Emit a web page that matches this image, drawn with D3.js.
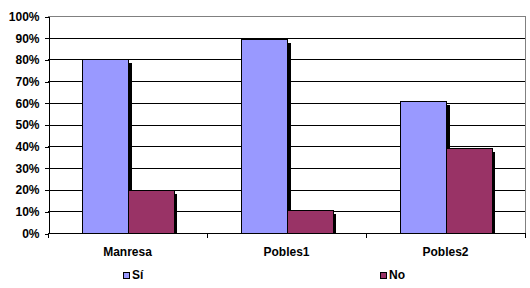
<!DOCTYPE html>
<html>
<head>
<meta charset="utf-8">
<script src="https://cdn.jsdelivr.net/npm/d3@7"></script>
<style>
  body { margin: 0; background: #fff; }
  text { font-family: Arial, "Liberation Sans", sans-serif; font-weight: bold; }
</style>
</head>
<body>
<div id="chart"></div>
<script>
const categories = ["Manresa", "Pobles1", "Pobles2"];
const seriesNames = ["Sí", "No"];
const siValues = [80, 89.5, 61];
const noValues = [20, 10.5, 39];
const tickValues = [0, 10, 20, 30, 40, 50, 60, 70, 80, 90, 100];
const colors = ["#9999ff", "#993366"];

let width = 530,
    height = 288;
let margin = {left: 48, right: 5, top: 16, bottom: 55};

let svg = d3.select("div#chart").append("svg")
  .attr("width", width)
  .attr("height", height)
  .attr("shape-rendering", "crispEdges");

let x = d3.scaleBand().domain(categories)
  .range([margin.left, width - margin.right]);
let x1 = d3.scaleBand().domain(seriesNames)
  .range([0, x.bandwidth()]).paddingOuter(0.73).paddingInner(0);
let y = d3.scaleLinear().domain([0, 100])
  .range([height - margin.bottom, margin.top]);

// gridlines
svg.append("g")
  .selectAll("line")
  .data(tickValues.slice(1))
  .enter().append("line")
  .attr("x1", margin.left)
  .attr("x2", width - margin.right)
  .attr("y1", d => Math.round(y(d)) + 0.5)
  .attr("y2", d => Math.round(y(d)) + 0.5)
  .attr("stroke", d => d === 100 ? "#808080" : "#000");

// right border
svg.append("line")
  .attr("x1", width - margin.right + 0.5)
  .attr("x2", width - margin.right + 0.5)
  .attr("y1", Math.round(y(100)))
  .attr("y2", Math.round(y(0)))
  .attr("stroke", "#808080");

let rows = categories.map((c, i) => ({cat: c, values: [siValues[i], noValues[i]]}));

let groups = svg.append("g").selectAll("g")
  .data(rows)
  .enter().append("g")
  .attr("transform", d => "translate(" + x(d.cat) + ",0)");

// shadows
groups.selectAll("rect.shadow")
  .data(d => d.values.map((v, j) => ({name: seriesNames[j], value: v})))
  .enter().append("rect")
  .attr("class", "shadow")
  .attr("x", d => Math.round(x1(d.name) + x1.bandwidth()))
  .attr("y", d => Math.round(y(d.value)) + 4)
  .attr("width", 4)
  .attr("height", d => Math.round(y(0)) - Math.round(y(d.value)) - 4)
  .attr("fill", "#000");

groups.selectAll("rect.bar")
  .data(d => d.values.map((v, j) => ({name: seriesNames[j], value: v})))
  .enter().append("rect")
  .attr("class", "bar")
  .attr("x", d => Math.round(x1(d.name)) + 0.5)
  .attr("y", d => Math.round(y(d.value)) + 0.5)
  .attr("width", d => Math.round(x1.bandwidth()))
  .attr("height", d => Math.round(y(0)) - Math.round(y(d.value)))
  .attr("fill", (d, j) => colors[j])
  .attr("stroke", "#000");

// y axis
let yAxis = svg.append("g")
  .attr("transform", "translate(" + (margin.left + 0.5) + ",0.5)")
  .call(d3.axisLeft(y).tickValues(tickValues).tickSize(4).tickSizeOuter(0)
    .tickFormat(d => d + "%"));
yAxis.select(".domain").attr("stroke", "#000");
yAxis.selectAll("text").style("font-size", "12px").attr("fill", "#000").attr("dx", "-2");

// x axis
let xAxis = svg.append("g")
  .attr("transform", "translate(0," + (Math.round(y(0)) + 0.5) + ")");
xAxis.append("line")
  .attr("x1", margin.left).attr("x2", width - margin.right + 1)
  .attr("stroke", "#000");
xAxis.selectAll("line.tick")
  .data(categories.map(c => x(c)).concat([x(categories[categories.length - 1]) + x.bandwidth()]))
  .enter().append("line")
  .attr("class", "tick")
  .attr("x1", d => Math.round(d) + 0.5)
  .attr("x2", d => Math.round(d) + 0.5)
  .attr("y1", 0).attr("y2", 4)
  .attr("stroke", "#000");
xAxis.selectAll("text")
  .data(categories)
  .enter().append("text")
  .attr("x", d => x(d) + x.bandwidth() / 2)
  .attr("y", 22)
  .attr("text-anchor", "middle")
  .style("font-size", "12px")
  .text(d => d);

// legend
let legend = svg.append("g").selectAll("g")
  .data(seriesNames)
  .enter().append("g")
  .attr("transform", (d, i) => "translate(" + (i === 0 ? 123 : 380) + ",272)");
legend.append("rect")
  .attr("x", 0.5).attr("y", 0.5)
  .attr("width", 6).attr("height", 6)
  .attr("fill", (d, i) => colors[i])
  .attr("stroke", "#000");
legend.append("text")
  .attr("x", 9).attr("y", 7)
  .style("font-size", "12px")
  .text(d => d);
</script>
</body>
</html>
